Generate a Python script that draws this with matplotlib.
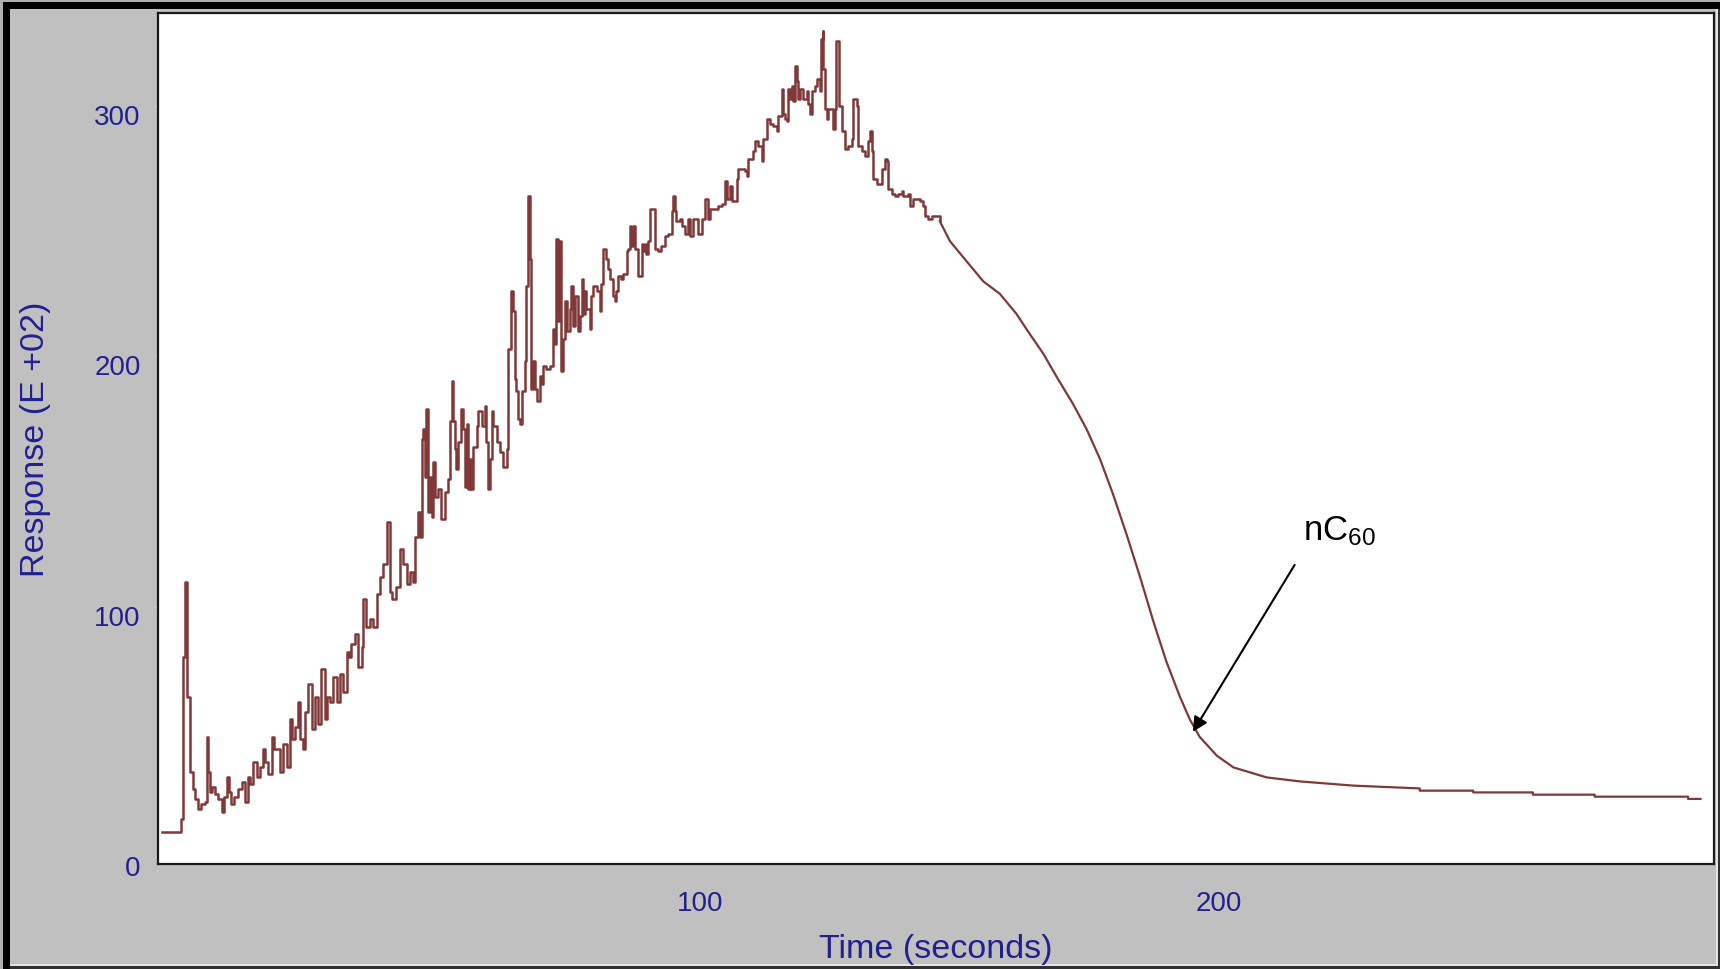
import matplotlib
matplotlib.use("Agg")
import matplotlib.pyplot as plt
from matplotlib.patches import Rectangle
from matplotlib.transforms import ScaledTranslation

plt.rcParams["font.family"] = ["Liberation Sans", "DejaVu Sans"]
plt.rcParams["mathtext.fontset"] = "custom"
plt.rcParams["mathtext.rm"] = "Liberation Sans"
plt.rcParams["mathtext.it"] = "Liberation Sans:italic"

# (time s, response E+02) - noisy part, drawn as steps
rise = [
    (-3.7, 10), (0.0, 15), (0.35, 80), (0.77, 110), (1.22, 64), (1.73, 34), (2.25, 27), (2.8, 23), (3.34, 19), (3.9, 21),
    (4.62, 22), (4.95, 48), (5.2, 34), (5.6, 26), (6.1, 28), (6.6, 25), (7.2, 23), (7.84, 18), (8.3, 24), (8.8, 32),
    (9.3, 26), (9.76, 21), (10.3, 24), (11.0, 27), (11.69, 30), (12.33, 22), (12.97, 32), (13.4, 29), (13.94, 38), (14.58, 32),
    (15.2, 36), (15.86, 43), (16.3, 38), (16.83, 33), (17.47, 48), (17.9, 43), (19.07, 34), (19.72, 45), (20.36, 36), (21.0, 55),
    (21.5, 47), (22.0, 52), (22.6, 62), (22.93, 47), (23.57, 43), (24.0, 58), (24.53, 69), (25.18, 51), (25.82, 64), (26.46, 53),
    (27.1, 75), (27.75, 55), (28.07, 64), (28.7, 62), (29.35, 72), (30.0, 62), (30.64, 73), (31.28, 66), (31.92, 82), (32.4, 80),
    (32.88, 85), (33.52, 89), (34.17, 76), (34.81, 84), (35.13, 103), (35.77, 92), (36.4, 95), (37.06, 92), (37.7, 105), (38.34, 112),
    (38.98, 117), (39.63, 134), (40.27, 106), (40.59, 103), (41.55, 108), (42.2, 123), (42.84, 117), (43.48, 109), (44.12, 114), (44.77, 110),
    (45.08, 128), (45.73, 138), (46.05, 128), (46.37, 167), (46.7, 171), (47.01, 152), (47.33, 179), (47.65, 138), (47.97, 152), (48.3, 136),
    (48.6, 158), (48.94, 144), (49.58, 147), (50.22, 135), (50.86, 146), (51.5, 151), (51.83, 174), (52.15, 190), (52.47, 174), (52.79, 163),
    (53.11, 155), (53.43, 166), (54.07, 179), (54.4, 171), (54.72, 148), (55.04, 173), (55.36, 147), (55.68, 159), (56.0, 147), (56.32, 164),
    (56.97, 172), (57.29, 178), (57.93, 172), (58.57, 180), (58.89, 166), (59.21, 147), (59.53, 159), (59.86, 178), (60.18, 172), (60.82, 166),
    (61.46, 162), (62.1, 156), (62.75, 163), (63.07, 203), (63.71, 226), (64.03, 218), (64.35, 191), (64.67, 186), (65.0, 175), (65.31, 173),
    (65.64, 186), (66.28, 198), (66.6, 228), (66.92, 264), (67.24, 239), (67.43, 187), (67.88, 198), (68.2, 187), (68.53, 182), (69.17, 192),
    (69.49, 189), (69.81, 196), (70.45, 195), (71.1, 196), (71.74, 211), (72.06, 205), (72.38, 247), (72.7, 214), (73.02, 246), (73.34, 194),
    (73.66, 207), (73.99, 222), (74.31, 210), (74.95, 219), (75.27, 228), (75.59, 212), (75.91, 224), (76.55, 210), (76.88, 216), (77.2, 231),
    (77.52, 217), (77.84, 226), (78.16, 219), (78.8, 211), (79.12, 224), (79.44, 228), (80.09, 226), (80.73, 218), (81.05, 229), (81.37, 243),
    (82.01, 239), (82.33, 235), (82.66, 231), (83.3, 224), (83.62, 222), (83.94, 226), (84.26, 232), (84.9, 231), (85.22, 233), (85.87, 242),
    (86.19, 243), (86.51, 252), (86.83, 244), (87.15, 252), (87.47, 243), (88.11, 232), (88.76, 245), (89.08, 242), (89.4, 245), (89.72, 241),
    (90.05, 246), (90.37, 259), (91.33, 243), (91.97, 242), (92.61, 244), (93.26, 248), (93.9, 249), (94.54, 258), (94.86, 264), (95.18, 258),
    (95.5, 254), (96.15, 255), (96.47, 252), (97.11, 249), (97.75, 255), (98.07, 248), (98.72, 255), (99.68, 249), (100.32, 255), (100.96, 263),
    (101.6, 255), (101.93, 259), (103.53, 260), (104.18, 261), (104.82, 270), (105.14, 263), (105.78, 268), (106.1, 262), (107.07, 271), (107.39, 275),
    (108.67, 274), (108.99, 272), (109.31, 279), (110.28, 282), (110.6, 286), (111.24, 284), (111.88, 278), (112.2, 287), (112.85, 295), (113.49, 293),
    (114.13, 292), (114.77, 290), (115.09, 296), (115.74, 307), (116.06, 297), (116.38, 295), (116.7, 294), (117.02, 307), (117.34, 303), (117.66, 308),
    (117.98, 302), (118.3, 316), (118.63, 310), (118.95, 303), (119.27, 307), (119.91, 303), (120.55, 306), (120.87, 301), (121.2, 297), (121.52, 306),
    (122.16, 308), (122.48, 311), (123.12, 306), (123.31, 327), (123.64, 330), (123.76, 315), (124.09, 299), (124.41, 295), (124.73, 299), (125.69, 291),
    (126.01, 299), (126.2, 326), (126.85, 300), (127.3, 290), (127.94, 283), (128.58, 284), (129.22, 287), (129.54, 303), (130.19, 300), (130.51, 284),
    (131.15, 282), (131.79, 280), (132.43, 286), (132.76, 290), (133.08, 282), (133.4, 271), (134.04, 269), (135.0, 275), (135.65, 279), (135.97, 278),
    (136.29, 267), (136.93, 265), (137.57, 264), (138.22, 265), (138.86, 266), (139.18, 264), (140.14, 265), (140.46, 260), (141.1, 263), (142.39, 262),
    (142.9, 260), (143.35, 256), (143.99, 255), (144.64, 256), (145.6, 256), (146.24, 254),
]

# smooth fall-off and tail
decay = [
    (146.24, 254), (148.2, 246), (151.4, 238), (154.6, 230), (157.8, 225), (161.0, 217), (162.9, 211), (166.2, 201),
    (168.7, 192), (171.9, 181), (174.5, 171), (177.1, 159), (179.6, 145), (182.2, 129), (184.8, 112), (187.4, 94),
    (189.9, 78), (192.5, 64), (194.4, 55), (196.3, 48), (199.6, 40.5), (202.8, 35.8), (209.2, 31.8), (215.6, 30.2),
    (226.0, 28.5), (238.7, 27.4), (238.7, 26.5), (249.0, 26.5), (249.0, 25.8), (260.5, 25.8), (260.5, 24.9),
    (272.4, 24.9), (272.4, 24.1), (290.4, 24.1), (290.4, 23.2), (292.8, 23.2),
]

yticks = [0, 100, 200, 300]
xticks = [100, 200]
peak_label = r"nC$_{\mathregular{60}}$"
peak_point = (195.0, 50)

W, H = 1720, 970
fig = plt.figure(figsize=(W / 100, H / 100), dpi=100, facecolor="#c0c0c0")


def frame(x0, y0, x1, y1, color):
    # rectangle given in pixels from the top-left corner
    fig.add_artist(Rectangle((x0 / W, 1 - y1 / H), (x1 - x0) / W, (y1 - y0) / H,
                             transform=fig.transFigure, color=color, lw=0, zorder=0))


frame(0, 0, 3, H, "#b0b0b0")
frame(0, 0, W, 3, "#b0b0b0")
frame(3, 3, 10, H, "black")
frame(3, 3, W, 10, "black")
frame(W - 4, 10, W - 2, H, "#e4e4e4")
frame(10, H - 5, W, H - 3, "#e4e4e4")
frame(W - 2, 10, W, H, "#303030")
frame(10, H - 3, W, H, "#303030")

ax = fig.add_axes([158 / W, 1 - 865 / H, (1714 - 158) / W, (865 - 14) / H])
ax.set_facecolor("white")

t1, v1 = zip(*rise)
t2, v2 = zip(*decay)
line_col = "#803838"
ax.plot(t1, v1, color=line_col, lw=1.8, drawstyle="steps-post")
ax.plot(t2, v2, color=line_col, lw=1.6)

ax.set_xlim(-4.4, 295.4)
ax.set_ylim(-2.8, 337.2)

for s in ax.spines.values():
    s.set_linewidth(1.6)
    s.set_color("#1a1a1a")

label_col = "#20208f"
ax.set_yticks(yticks)
ax.set_xticks(xticks)
ax.tick_params(axis="y", direction="out", length=2.5, width=1, color="#d8d8d8",
               labelsize=20, labelcolor=label_col, pad=10)
ax.tick_params(axis="x", length=0, labelsize=20, labelcolor=label_col, pad=19)
shift = ScaledTranslation(0, -8 / 100, fig.dpi_scale_trans)
for lab in ax.get_yticklabels():
    lab.set_transform(lab.get_transform() + shift)

ax.set_xlabel("Time (seconds)", fontsize=24.5, color=label_col)
ax.xaxis.set_label_coords(0.5, -0.099)
ax.xaxis.label.set_va("center")
ax.set_ylabel("Response (E +02)", fontsize=24.5, color=label_col)
ax.yaxis.set_label_coords(-0.079, 0.5)
ax.yaxis.label.set_va("center")

ax.annotate("", xy=peak_point, xytext=(214.6, 116.7),
            arrowprops=dict(arrowstyle="-|>", color="black", lw=1.5,
                            mutation_scale=22, shrinkA=0, shrinkB=0))
ax.text(216.2, 127, peak_label, fontsize=25, color="black", ha="left", va="baseline")

fig.savefig("out.png", dpi=100, facecolor=fig.get_facecolor())
